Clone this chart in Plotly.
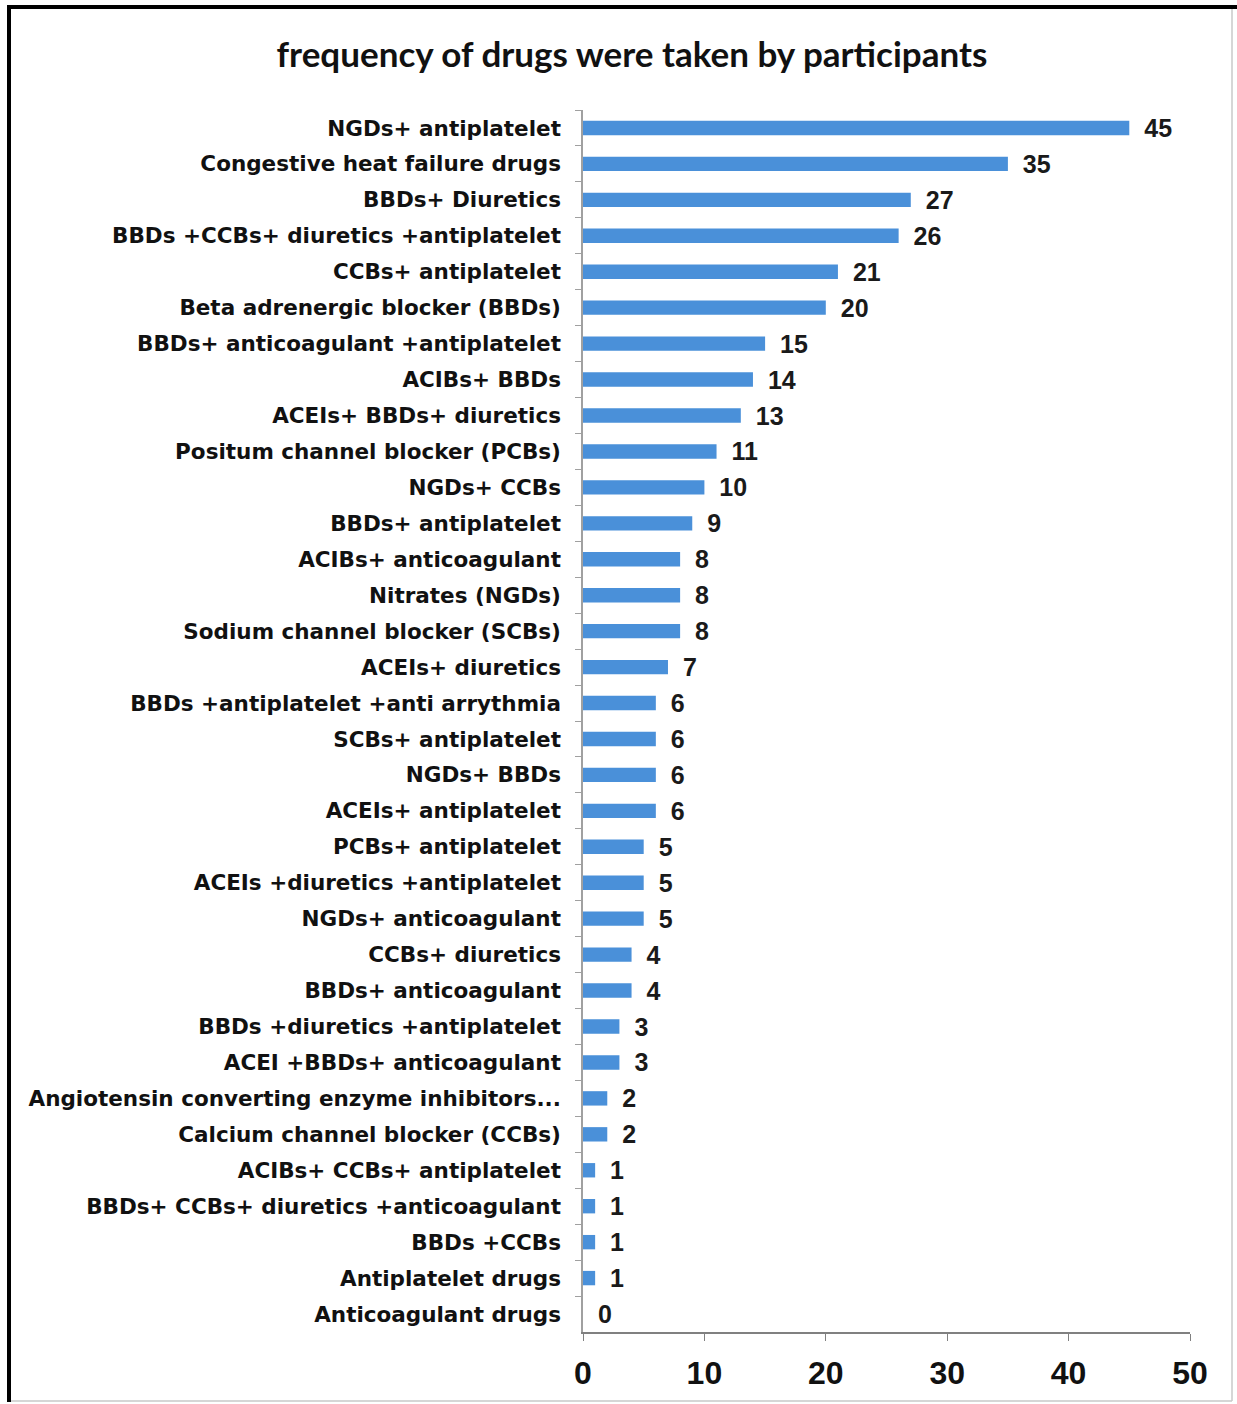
import plotly.graph_objects as go

categories = [
    "NGDs+ antiplatelet",
    "Congestive heat failure drugs",
    "BBDs+ Diuretics",
    "BBDs +CCBs+ diuretics +antiplatelet",
    "CCBs+ antiplatelet",
    "Beta adrenergic blocker (BBDs)",
    "BBDs+ anticoagulant +antiplatelet",
    "ACIBs+ BBDs",
    "ACEIs+ BBDs+ diuretics",
    "Positum channel blocker (PCBs)",
    "NGDs+ CCBs",
    "BBDs+ antiplatelet",
    "ACIBs+ anticoagulant",
    "Nitrates (NGDs)",
    "Sodium channel blocker (SCBs)",
    "ACEIs+ diuretics",
    "BBDs +antiplatelet +anti arrythmia",
    "SCBs+ antiplatelet",
    "NGDs+ BBDs",
    "ACEIs+ antiplatelet",
    "PCBs+ antiplatelet",
    "ACEIs +diuretics +antiplatelet",
    "NGDs+ anticoagulant",
    "CCBs+ diuretics",
    "BBDs+ anticoagulant",
    "BBDs +diuretics +antiplatelet",
    "ACEI +BBDs+ anticoagulant",
    "Angiotensin converting enzyme inhibitors...",
    "Calcium channel blocker (CCBs)",
    "ACIBs+ CCBs+ antiplatelet",
    "BBDs+ CCBs+ diuretics +anticoagulant",
    "BBDs +CCBs",
    "Antiplatelet drugs",
    "Anticoagulant drugs",
]
values = [45, 35, 27, 26, 21, 20, 15, 14, 13, 11, 10, 9, 8, 8, 8, 7, 6, 6, 6, 6,
          5, 5, 5, 4, 4, 3, 3, 2, 2, 1, 1, 1, 1, 0]
x_ticks = [0, 10, 20, 30, 40, 50]
title_text = "frequency of drugs were taken by participants"

W, H = 1237, 1404
L, R, T, B = 583, 47, 110, 72
pw, ph = W - L - R, H - T - B

def px_x(p):
    return (p - L) / pw

def px_y(p):
    return (H - B - p) / ph

fig = go.Figure(go.Bar(
    x=values,
    y=categories,
    orientation="h",
    marker=dict(color="#4A90D9", line=dict(width=0)),
    width=0.4,
    text=values,
    texttemplate="\u00a0\u2009%{x}",
    textposition="outside",
    constraintext="none",
    cliponaxis=False,
    textfont=dict(family="Liberation Sans, Arial", size=25, color="#1a1a1a", weight="bold"),
))

fig.update_layout(
    width=W, height=H,
    margin=dict(l=L, r=R, t=T, b=B),
    paper_bgcolor="white",
    plot_bgcolor="white",
    showlegend=False,
    title=dict(
        text=title_text,
        x=632 / W, xanchor="center",
        y=1 - 55 / H, yanchor="middle",
        xref="container", yref="container",
        font=dict(family="Lato, Open Sans", size=35, color="#111111", weight="bold"),
    ),
    xaxis=dict(
        range=[0, 50],
        tickvals=x_ticks,
        showgrid=False,
        zeroline=False,
        showline=True,
        linecolor="#808080",
        linewidth=1.5,
        ticks="outside",
        ticklen=7,
        tickcolor="#808080",
        ticklabelstandoff=5,
        tickfont=dict(family="Liberation Sans, Arial", size=32, color="#111111", weight="bold"),
    ),
    yaxis=dict(
        categoryorder="array",
        categoryarray=categories,
        autorange="reversed",
        showgrid=False,
        zeroline=False,
        showline=True,
        linecolor="#a0a0a0",
        linewidth=1.5,
        ticks="outside",
        tickson="boundaries",
        ticklen=6,
        tickcolor="#a0a0a0",
        ticklabelstandoff=16,
        tickfont=dict(family="DejaVu Sans", size=21.5, color="#111111", weight="bold"),
    ),
    shapes=[
        # frame: thin grey right/bottom, thick black left/top
        dict(type="line", xref="paper", yref="paper", x0=px_x(1232), x1=px_x(1232),
             y0=px_y(5), y1=px_y(1401), line=dict(color="#c8c8c8", width=1.5)),
        dict(type="line", xref="paper", yref="paper", x0=px_x(9), x1=px_x(1232),
             y0=px_y(1401), y1=px_y(1401), line=dict(color="#c8c8c8", width=1.5)),
        dict(type="line", xref="paper", yref="paper", x0=px_x(9), x1=px_x(9),
             y0=px_y(5), y1=px_y(1402), line=dict(color="black", width=4)),
        dict(type="line", xref="paper", yref="paper", x0=px_x(7), x1=px_x(1237),
             y0=px_y(7), y1=px_y(7), line=dict(color="black", width=4)),
    ],
)

fig.write_html("out.html")
